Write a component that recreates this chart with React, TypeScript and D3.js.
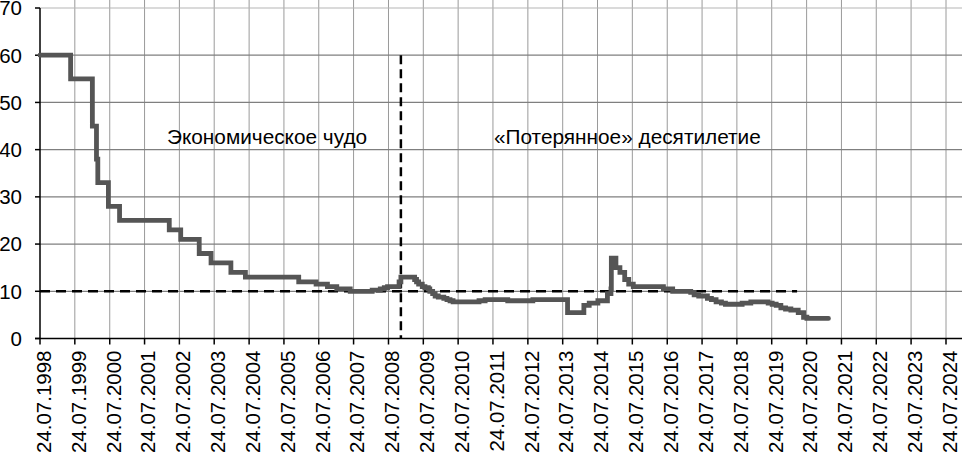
import React from "react";
import * as d3 from "d3";

// Step-series: date of change (dd.mm.yyyy) and rate (%)
const rateDates: string[] = [
  "24.07.1998","10.06.1999","24.01.2000","07.03.2000","21.03.2000","10.07.2000","04.11.2000",
  "09.04.2002","07.08.2002","17.02.2003","21.06.2003","15.01.2004","15.06.2004","26.12.2005",
  "26.06.2006","23.10.2006","29.01.2007","19.06.2007","04.02.2008","29.04.2008","10.06.2008",
  "14.07.2008","12.11.2008","01.12.2008","24.04.2009","14.05.2009","05.06.2009","13.07.2009",
  "10.08.2009","15.09.2009","30.09.2009","30.10.2009","25.11.2009","28.12.2009","24.02.2010",
  "29.03.2010","30.04.2010","01.06.2010","28.02.2011","03.05.2011","26.12.2011","14.09.2012",
  "13.09.2013","03.03.2014","28.04.2014","28.07.2014","05.11.2014","12.12.2014","16.12.2014",
  "02.02.2015","16.03.2015","05.05.2015","16.06.2015","03.08.2015","14.06.2016","19.09.2016",
  "27.03.2017","02.05.2017","19.06.2017","18.09.2017","30.10.2017","18.12.2017","12.02.2018",
  "26.03.2018","17.09.2018","17.12.2018","17.06.2019","29.07.2019","09.09.2019","28.10.2019",
  "16.12.2019","10.02.2020","27.04.2020","22.06.2020","27.07.2020","10.03.2021",
];
const rateValues: number[] = [
  60, 55, 45, 38, 33, 28, 25,
  23, 21, 18, 16, 14, 13, 12,
  11.5, 11, 10.5, 10, 10.25, 10.5, 10.75,
  11, 12, 13, 12.5, 12, 11.5, 11,
  10.75, 10.5, 10, 9.5, 9, 8.75, 8.5,
  8.25, 8, 7.75, 8, 8.25, 8, 8.25,
  5.5, 7, 7.5, 8, 9.5, 10.5, 17,
  15, 14, 12.5, 11.5, 11, 10.5, 10,
  9.75, 9.25, 9, 8.5, 8.25, 7.75, 7.5,
  7.25, 7.5, 7.75, 7.5, 7.25, 7, 6.5,
  6.25, 6, 5.5, 4.5, 4.25, 4.25,
];

const tickYears: number[] = d3.range(1998, 2025);
const yTicks: number[] = [0, 10, 20, 30, 40, 50, 60, 70];

const refLevel = 10;
const refStart = "24.07.1998";
const refEnd = "15.04.2020";
const splitDate = "01.12.2008";
const splitTop = 60;

const leftLabel = "Экономическое чудо";
const rightLabel = "«Потерянное» десятилетие";

const parse = d3.timeParse("%d.%m.%Y");

export default function App() {
  const W = 962, H = 455;
  const x0 = 40, x1 = 946, plotRight = 962;
  const yBottom = 338.5, yTop = 8;
  const x = d3.scaleTime()
    .domain([parse("24.07.1998")!, parse("24.07.2024")!])
    .range([x0, x1]);
  const y = d3.scaleLinear().domain([0, 70]).range([yBottom, yTop]);

  const data = rateDates.map((d, i) => ({ date: parse(d)!, v: rateValues[i] }));
  const line = d3.line<{ date: Date; v: number }>()
    .x(d => x(d.date))
    .y(d => y(d.v))
    .curve(d3.curveStepAfter);

  const font = "'Liberation Sans', Arial, sans-serif";
  const ticks = tickYears.map(yr => new Date(yr, 6, 24));

  return (
    <svg width={W} height={H} style={{ position: "absolute", left: 0, top: 0, background: "#fff" }}
      fontFamily={font}>
      {/* vertical gridlines */}
      {ticks.slice(1).map((t, i) => (
        <line key={"vg" + i} x1={x(t)} x2={x(t)} y1={0} y2={yBottom} stroke="#9a9a9a" strokeWidth={1} />
      ))}
      {/* horizontal gridlines */}
      {yTicks.filter(v => v > 0).map(v => (
        <line key={"hg" + v} x1={x0} x2={plotRight} y1={y(v)} y2={y(v)}
          stroke={v === 70 ? "#b5b5b5" : "#7f7f7f"} strokeWidth={v === 70 ? 1 : 1.3} />
      ))}
      {/* axes */}
      <line x1={x0} x2={x0} y1={yTop} y2={yBottom} stroke="#000" strokeWidth={1.5} />
      <line x1={35} x2={plotRight} y1={yBottom} y2={yBottom} stroke="#000" strokeWidth={1.5} />
      {yTicks.map(v => (
        <g key={"yt" + v}>
          <line x1={35} x2={x0} y1={y(v)} y2={y(v)} stroke="#000" strokeWidth={1.5} />
          <text x={22} y={y(v)} dy="0.36em" textAnchor="end" fontSize={20.5} fill="#000">{v}</text>
        </g>
      ))}
      {ticks.map((t, i) => {
        const tx = x(t);
        return (
          <g key={"xt" + i}>
            <line x1={tx} x2={tx} y1={yBottom} y2={yBottom + 6} stroke="#000" strokeWidth={1.5} />
            <text transform={`translate(${tx + 10.8},${yBottom + 12}) rotate(-90)`} textAnchor="end"
              fontSize={20.5} fill="#000">{d3.timeFormat("%d.%m.%Y")(t)}</text>
          </g>
        );
      })}
      {/* reference dashed lines */}
      <line x1={x(parse(refStart)!)} x2={x(parse(refEnd)!)} y1={y(refLevel)} y2={y(refLevel)}
        stroke="#000" strokeWidth={2.5} strokeDasharray="10,6" />
      <line x1={x(parse(splitDate)!)} x2={x(parse(splitDate)!)} y1={y(splitTop)} y2={yBottom}
        stroke="#000" strokeWidth={2.5} strokeDasharray="9,5" />
      {/* series */}
      <path d={line(data) || ""} fill="none" stroke="#555555" strokeWidth={4.8} strokeLinejoin="miter" strokeLinecap="round" />
      {/* annotations */}
      <text x={167} y={144} fontSize={20.8} fill="#000">{leftLabel}</text>
      <text x={494} y={144} fontSize={20.8} fill="#000">{rightLabel}</text>
    </svg>
  );
}
